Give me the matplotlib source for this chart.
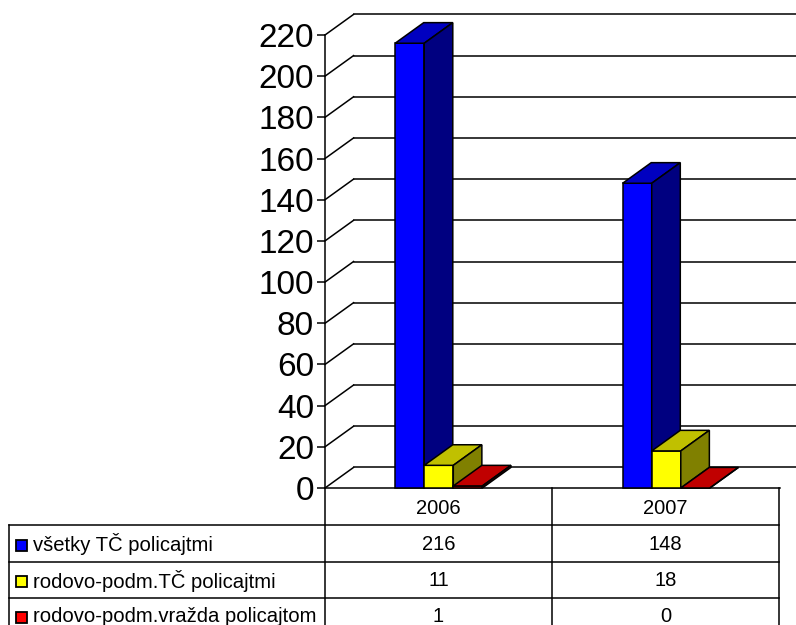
import numpy as np
from matplotlib import pyplot as plt
from matplotlib.patches import Polygon, Rectangle

plt.rcParams['font.family'] = ['Liberation Sans', 'DejaVu Sans']

# Data
years = ['2006', '2007']
series_names = ['všetky TČ policajtmi', 'rodovo-podm.TČ policajtmi', 'rodovo-podm.vražda policajtom']
all_offences = [216, 148]
gender_offences = [11, 18]
gender_murders = [1, 0]
y_ticks = list(range(0, 221, 20))

# front, top, side colours of each series
FACES = [('#0000FF', '#0000C0', '#000080'),
         ('#FFFF00', '#C0C000', '#808000'),
         ('#FF0000', '#C00000', '#800000')]

WIDTH_PX, HEIGHT_PX = 796, 625
AX_LEFT, AX_RIGHT, AX_TOP, AX_BOTTOM = 325, 780, 35, 488
BAR_W = 0.1278
DEPTH_X = 0.1256
DEPTH_Y = 10.0


def draw_bar(ax, left, value, colors):
    """Draw one pseudo-3D bar from its front, top and side faces."""
    front, top, side = colors
    right = left + BAR_W
    faces = [
        ([(left, 0), (right, 0), (right, value), (left, value)], front),
        ([(left, value), (right, value), (right + DEPTH_X, value + DEPTH_Y), (left + DEPTH_X, value + DEPTH_Y)], top),
        ([(right, 0), (right + DEPTH_X, DEPTH_Y), (right + DEPTH_X, value + DEPTH_Y), (right, value)], side),
    ]
    for xy, color in faces:
        ax.add_patch(Polygon(xy, closed=True, facecolor=color, edgecolor='black', linewidth=1.1,
                             joinstyle='miter', zorder=3, clip_on=False))


fig = plt.figure(figsize=(WIDTH_PX / 100, HEIGHT_PX / 100), dpi=100)

# Chart area, positioned to match the plot rectangle of the reference
ax = fig.add_axes([AX_LEFT / WIDTH_PX, 1 - AX_BOTTOM / HEIGHT_PX,
                   (AX_RIGHT - AX_LEFT) / WIDTH_PX, (AX_BOTTOM - AX_TOP) / HEIGHT_PX])
ax.set_xlim(-0.5, 1.5)
ax.set_ylim(0, 220)
ax.patch.set_alpha(0)
for name in ['top', 'right']:
    ax.spines[name].set_visible(False)
ax.spines['left'].set_linewidth(1.1)
ax.spines['bottom'].set_linewidth(1.1)
ax.set_xticks([])
ax.set_yticks(y_ticks)
ax.tick_params(axis='y', labelsize=24, length=5.5, width=1.1, pad=2.5)

# Back wall lines and side wall diagonals
for tick in y_ticks:
    ax.plot([-0.5, -0.5 + DEPTH_X], [tick, tick + DEPTH_Y], color='black', lw=1.1, clip_on=False, zorder=1)
    ax.plot([-0.5 + DEPTH_X, 1.5 + DEPTH_X], [tick + DEPTH_Y, tick + DEPTH_Y], color='black', lw=1.1,
            clip_on=False, zorder=1)

# Bars, back to front per category
values = [all_offences, gender_offences, gender_murders]
for i in range(len(years)):
    for j, series in enumerate(values):
        draw_bar(ax, i + (j - 1.5) * BAR_W, series[i], FACES[j])

# Data table in pixel coordinates
table = fig.add_axes([0, 0, 1, 1])
table.set_xlim(0, WIDTH_PX)
table.set_ylim(HEIGHT_PX, 0)
table.axis('off')
table.patch.set_alpha(0)

row_lines = [525, 561.5, 597.5]
col_lines = [AX_LEFT, 552, AX_RIGHT - 1]
line_style = dict(color='black', lw=1.1, clip_on=True)
for y in row_lines:
    table.plot([9, AX_RIGHT - 1], [y, y], **line_style)
table.plot([9, 9], [row_lines[0], HEIGHT_PX], **line_style)
for x in col_lines:
    table.plot([x, x], [AX_BOTTOM, HEIGHT_PX], **line_style)

for i, year in enumerate(years):
    center = (col_lines[i] + col_lines[i + 1]) / 2
    table.text(center, 508, year, ha='center', va='center', fontsize=14.5)
    for j, series in enumerate(values):
        table.text(center, row_lines[j] + 19, str(series[i]), ha='center', va='center', fontsize=14.5)

for j, name in enumerate(series_names):
    y = row_lines[j] + 20
    table.add_patch(Rectangle((15.5, y - 5.5), 11, 11, facecolor=FACES[j][0], edgecolor='black', linewidth=1.3))
    table.text(33, y - 1, name, ha='left', va='center', fontsize=14.6)

fig.savefig('out.png', dpi=100)
